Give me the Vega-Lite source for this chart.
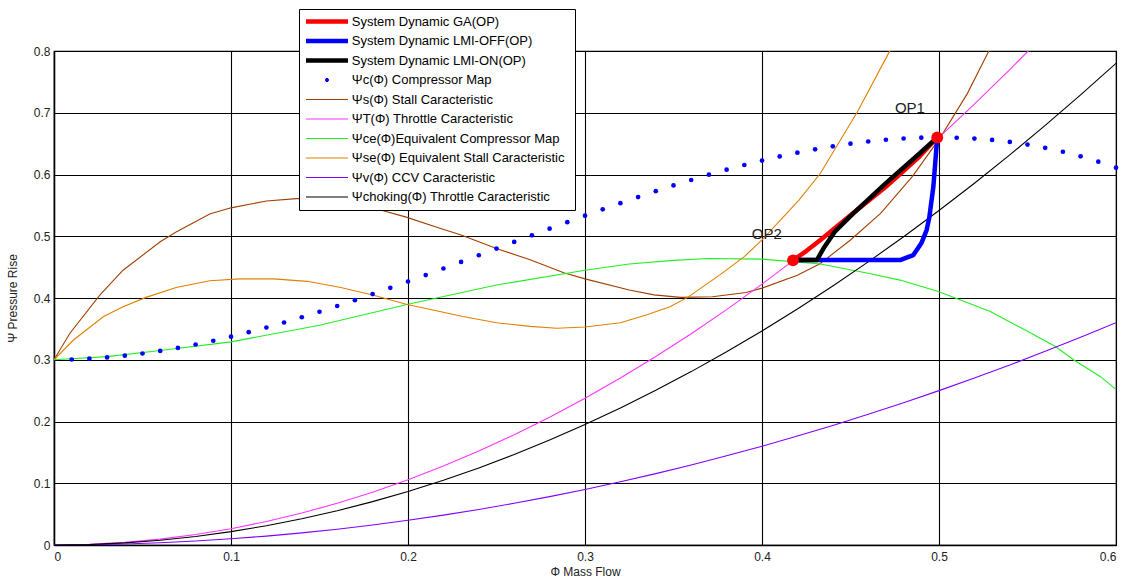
{
  "$schema": "https://vega.github.io/schema/vega-lite/v6.json",
  "width": 1062,
  "height": 494,
  "autosize": {"type": "none"},
  "padding": {"left": 54, "top": 51, "right": 21, "bottom": 39},
  "background": "white",
  "config": {
    "font": "Liberation Sans",
    "view": {"stroke": "black", "strokeWidth": 1.2},
    "axis": {
      "grid": true, "gridColor": "black", "gridOpacity": 1, "gridWidth": 1.1,
      "domainColor": "black", "domainWidth": 1.5,
      "ticks": false,
      "labelFont": "Liberation Sans", "labelFontSize": 12, "labelColor": "#222222",
      "titleFont": "Liberation Sans", "titleFontSize": 12, "titleFontWeight": "normal", "titleColor": "#222222"
    },
    "legend": {
      "orient": "none",
      "legendX": 245,
      "legendY": -42,
      "direction": "vertical",
      "fillColor": "white",
      "strokeColor": "black",
      "padding": 6,
      "labelFont": "Liberation Sans",
      "labelFontSize": 13,
      "labelColor": "#000000",
      "labelOffset": 18.3,
      "symbolOffset": 15.5,
      "labelLimit": 400,
      "rowPadding": 5.5,
      "symbolSize": 16,
      "symbolStrokeWidth": 1.1,
      "symbolOpacity": 1
    }
  },
  "datasets": {
    "thin": [
      {"s": "Ψs(Φ) Stall  Caracteristic", "x": 0, "y": 0.3},
      {"s": "Ψs(Φ) Stall  Caracteristic", "x": 0.009, "y": 0.343},
      {"s": "Ψs(Φ) Stall  Caracteristic", "x": 0.026, "y": 0.405},
      {"s": "Ψs(Φ) Stall  Caracteristic", "x": 0.039, "y": 0.445},
      {"s": "Ψs(Φ) Stall  Caracteristic", "x": 0.06, "y": 0.491},
      {"s": "Ψs(Φ) Stall  Caracteristic", "x": 0.069, "y": 0.507},
      {"s": "Ψs(Φ) Stall  Caracteristic", "x": 0.088, "y": 0.536},
      {"s": "Ψs(Φ) Stall  Caracteristic", "x": 0.1, "y": 0.546},
      {"s": "Ψs(Φ) Stall  Caracteristic", "x": 0.12, "y": 0.557},
      {"s": "Ψs(Φ) Stall  Caracteristic", "x": 0.137, "y": 0.561},
      {"s": "Ψs(Φ) Stall  Caracteristic", "x": 0.15, "y": 0.561},
      {"s": "Ψs(Φ) Stall  Caracteristic", "x": 0.165, "y": 0.554},
      {"s": "Ψs(Φ) Stall  Caracteristic", "x": 0.184, "y": 0.543},
      {"s": "Ψs(Φ) Stall  Caracteristic", "x": 0.199, "y": 0.531},
      {"s": "Ψs(Φ) Stall  Caracteristic", "x": 0.218, "y": 0.513},
      {"s": "Ψs(Φ) Stall  Caracteristic", "x": 0.23, "y": 0.502},
      {"s": "Ψs(Φ) Stall  Caracteristic", "x": 0.25, "y": 0.48},
      {"s": "Ψs(Φ) Stall  Caracteristic", "x": 0.269, "y": 0.462},
      {"s": "Ψs(Φ) Stall  Caracteristic", "x": 0.288, "y": 0.441},
      {"s": "Ψs(Φ) Stall  Caracteristic", "x": 0.3, "y": 0.431},
      {"s": "Ψs(Φ) Stall  Caracteristic", "x": 0.325, "y": 0.413},
      {"s": "Ψs(Φ) Stall  Caracteristic", "x": 0.339, "y": 0.405},
      {"s": "Ψs(Φ) Stall  Caracteristic", "x": 0.354, "y": 0.401},
      {"s": "Ψs(Φ) Stall  Caracteristic", "x": 0.372, "y": 0.402},
      {"s": "Ψs(Φ) Stall  Caracteristic", "x": 0.391, "y": 0.409},
      {"s": "Ψs(Φ) Stall  Caracteristic", "x": 0.4, "y": 0.416},
      {"s": "Ψs(Φ) Stall  Caracteristic", "x": 0.42, "y": 0.437},
      {"s": "Ψs(Φ) Stall  Caracteristic", "x": 0.433, "y": 0.456},
      {"s": "Ψs(Φ) Stall  Caracteristic", "x": 0.45, "y": 0.494},
      {"s": "Ψs(Φ) Stall  Caracteristic", "x": 0.467, "y": 0.537},
      {"s": "Ψs(Φ) Stall  Caracteristic", "x": 0.485, "y": 0.597},
      {"s": "Ψs(Φ) Stall  Caracteristic", "x": 0.501, "y": 0.661},
      {"s": "Ψs(Φ) Stall  Caracteristic", "x": 0.516, "y": 0.731},
      {"s": "Ψs(Φ) Stall  Caracteristic", "x": 0.528, "y": 0.799},
      {"s": "Ψs(Φ) Stall  Caracteristic", "x": 0.535, "y": 0.84},

      {"s": "ΨT(Φ) Throttle Caracteristic", "x": 0, "y": 0},
      {"s": "ΨT(Φ) Throttle Caracteristic", "x": 0.02, "y": 0.00106},
      {"s": "ΨT(Φ) Throttle Caracteristic", "x": 0.04, "y": 0.00422},
      {"s": "ΨT(Φ) Throttle Caracteristic", "x": 0.06, "y": 0.0095},
      {"s": "ΨT(Φ) Throttle Caracteristic", "x": 0.08, "y": 0.0169},
      {"s": "ΨT(Φ) Throttle Caracteristic", "x": 0.1, "y": 0.0264},
      {"s": "ΨT(Φ) Throttle Caracteristic", "x": 0.12, "y": 0.038},
      {"s": "ΨT(Φ) Throttle Caracteristic", "x": 0.14, "y": 0.0517},
      {"s": "ΨT(Φ) Throttle Caracteristic", "x": 0.16, "y": 0.0676},
      {"s": "ΨT(Φ) Throttle Caracteristic", "x": 0.18, "y": 0.0855},
      {"s": "ΨT(Φ) Throttle Caracteristic", "x": 0.2, "y": 0.1056},
      {"s": "ΨT(Φ) Throttle Caracteristic", "x": 0.22, "y": 0.1278},
      {"s": "ΨT(Φ) Throttle Caracteristic", "x": 0.24, "y": 0.1521},
      {"s": "ΨT(Φ) Throttle Caracteristic", "x": 0.26, "y": 0.1785},
      {"s": "ΨT(Φ) Throttle Caracteristic", "x": 0.28, "y": 0.207},
      {"s": "ΨT(Φ) Throttle Caracteristic", "x": 0.3, "y": 0.2376},
      {"s": "ΨT(Φ) Throttle Caracteristic", "x": 0.32, "y": 0.2703},
      {"s": "ΨT(Φ) Throttle Caracteristic", "x": 0.34, "y": 0.3052},
      {"s": "ΨT(Φ) Throttle Caracteristic", "x": 0.36, "y": 0.3421},
      {"s": "ΨT(Φ) Throttle Caracteristic", "x": 0.38, "y": 0.3812},
      {"s": "ΨT(Φ) Throttle Caracteristic", "x": 0.4, "y": 0.4224},
      {"s": "ΨT(Φ) Throttle Caracteristic", "x": 0.42, "y": 0.4657},
      {"s": "ΨT(Φ) Throttle Caracteristic", "x": 0.44, "y": 0.5111},
      {"s": "ΨT(Φ) Throttle Caracteristic", "x": 0.46, "y": 0.5586},
      {"s": "ΨT(Φ) Throttle Caracteristic", "x": 0.48, "y": 0.6083},
      {"s": "ΨT(Φ) Throttle Caracteristic", "x": 0.5, "y": 0.66},
      {"s": "ΨT(Φ) Throttle Caracteristic", "x": 0.52, "y": 0.7139},
      {"s": "ΨT(Φ) Throttle Caracteristic", "x": 0.54, "y": 0.7698},
      {"s": "ΨT(Φ) Throttle Caracteristic", "x": 0.56, "y": 0.8279},

      {"s": "Ψce(Φ)Equivalent Compressor Map", "x": 0, "y": 0.3},
      {"s": "Ψce(Φ)Equivalent Compressor Map", "x": 0.03, "y": 0.305},
      {"s": "Ψce(Φ)Equivalent Compressor Map", "x": 0.06, "y": 0.315},
      {"s": "Ψce(Φ)Equivalent Compressor Map", "x": 0.1, "y": 0.329},
      {"s": "Ψce(Φ)Equivalent Compressor Map", "x": 0.15, "y": 0.356},
      {"s": "Ψce(Φ)Equivalent Compressor Map", "x": 0.2, "y": 0.39},
      {"s": "Ψce(Φ)Equivalent Compressor Map", "x": 0.25, "y": 0.421},
      {"s": "Ψce(Φ)Equivalent Compressor Map", "x": 0.3, "y": 0.445},
      {"s": "Ψce(Φ)Equivalent Compressor Map", "x": 0.325, "y": 0.455},
      {"s": "Ψce(Φ)Equivalent Compressor Map", "x": 0.35, "y": 0.461},
      {"s": "Ψce(Φ)Equivalent Compressor Map", "x": 0.37, "y": 0.464},
      {"s": "Ψce(Φ)Equivalent Compressor Map", "x": 0.4, "y": 0.463},
      {"s": "Ψce(Φ)Equivalent Compressor Map", "x": 0.433, "y": 0.455},
      {"s": "Ψce(Φ)Equivalent Compressor Map", "x": 0.46, "y": 0.44},
      {"s": "Ψce(Φ)Equivalent Compressor Map", "x": 0.478, "y": 0.429},
      {"s": "Ψce(Φ)Equivalent Compressor Map", "x": 0.5, "y": 0.41},
      {"s": "Ψce(Φ)Equivalent Compressor Map", "x": 0.529, "y": 0.378},
      {"s": "Ψce(Φ)Equivalent Compressor Map", "x": 0.55, "y": 0.346},
      {"s": "Ψce(Φ)Equivalent Compressor Map", "x": 0.566, "y": 0.321},
      {"s": "Ψce(Φ)Equivalent Compressor Map", "x": 0.576, "y": 0.3},
      {"s": "Ψce(Φ)Equivalent Compressor Map", "x": 0.591, "y": 0.273},
      {"s": "Ψce(Φ)Equivalent Compressor Map", "x": 0.6, "y": 0.252},

      {"s": "Ψse(Φ) Equivalent Stall  Caracteristic", "x": 0, "y": 0.3},
      {"s": "Ψse(Φ) Equivalent Stall  Caracteristic", "x": 0.011, "y": 0.332},
      {"s": "Ψse(Φ) Equivalent Stall  Caracteristic", "x": 0.028, "y": 0.37},
      {"s": "Ψse(Φ) Equivalent Stall  Caracteristic", "x": 0.039, "y": 0.386},
      {"s": "Ψse(Φ) Equivalent Stall  Caracteristic", "x": 0.052, "y": 0.401},
      {"s": "Ψse(Φ) Equivalent Stall  Caracteristic", "x": 0.069, "y": 0.417},
      {"s": "Ψse(Φ) Equivalent Stall  Caracteristic", "x": 0.088, "y": 0.428},
      {"s": "Ψse(Φ) Equivalent Stall  Caracteristic", "x": 0.105, "y": 0.431},
      {"s": "Ψse(Φ) Equivalent Stall  Caracteristic", "x": 0.124, "y": 0.431},
      {"s": "Ψse(Φ) Equivalent Stall  Caracteristic", "x": 0.143, "y": 0.427},
      {"s": "Ψse(Φ) Equivalent Stall  Caracteristic", "x": 0.162, "y": 0.417},
      {"s": "Ψse(Φ) Equivalent Stall  Caracteristic", "x": 0.18, "y": 0.405},
      {"s": "Ψse(Φ) Equivalent Stall  Caracteristic", "x": 0.199, "y": 0.39},
      {"s": "Ψse(Φ) Equivalent Stall  Caracteristic", "x": 0.218, "y": 0.378},
      {"s": "Ψse(Φ) Equivalent Stall  Caracteristic", "x": 0.231, "y": 0.37},
      {"s": "Ψse(Φ) Equivalent Stall  Caracteristic", "x": 0.25, "y": 0.36},
      {"s": "Ψse(Φ) Equivalent Stall  Caracteristic", "x": 0.269, "y": 0.354},
      {"s": "Ψse(Φ) Equivalent Stall  Caracteristic", "x": 0.284, "y": 0.351},
      {"s": "Ψse(Φ) Equivalent Stall  Caracteristic", "x": 0.3, "y": 0.353},
      {"s": "Ψse(Φ) Equivalent Stall  Caracteristic", "x": 0.32, "y": 0.36},
      {"s": "Ψse(Φ) Equivalent Stall  Caracteristic", "x": 0.335, "y": 0.373},
      {"s": "Ψse(Φ) Equivalent Stall  Caracteristic", "x": 0.348, "y": 0.386},
      {"s": "Ψse(Φ) Equivalent Stall  Caracteristic", "x": 0.358, "y": 0.401},
      {"s": "Ψse(Φ) Equivalent Stall  Caracteristic", "x": 0.376, "y": 0.437},
      {"s": "Ψse(Φ) Equivalent Stall  Caracteristic", "x": 0.39, "y": 0.467},
      {"s": "Ψse(Φ) Equivalent Stall  Caracteristic", "x": 0.4, "y": 0.494},
      {"s": "Ψse(Φ) Equivalent Stall  Caracteristic", "x": 0.41, "y": 0.525},
      {"s": "Ψse(Φ) Equivalent Stall  Caracteristic", "x": 0.421, "y": 0.559},
      {"s": "Ψse(Φ) Equivalent Stall  Caracteristic", "x": 0.433, "y": 0.602},
      {"s": "Ψse(Φ) Equivalent Stall  Caracteristic", "x": 0.454, "y": 0.702},
      {"s": "Ψse(Φ) Equivalent Stall  Caracteristic", "x": 0.472, "y": 0.799},
      {"s": "Ψse(Φ) Equivalent Stall  Caracteristic", "x": 0.48, "y": 0.84},

      {"s": "Ψv(Φ) CCV Caracteristic", "x": 0, "y": 0},
      {"s": "Ψv(Φ) CCV Caracteristic", "x": 0.02, "y": 0.0004},
      {"s": "Ψv(Φ) CCV Caracteristic", "x": 0.04, "y": 0.0016},
      {"s": "Ψv(Φ) CCV Caracteristic", "x": 0.06, "y": 0.0036},
      {"s": "Ψv(Φ) CCV Caracteristic", "x": 0.08, "y": 0.0064},
      {"s": "Ψv(Φ) CCV Caracteristic", "x": 0.1, "y": 0.01},
      {"s": "Ψv(Φ) CCV Caracteristic", "x": 0.12, "y": 0.0144},
      {"s": "Ψv(Φ) CCV Caracteristic", "x": 0.14, "y": 0.0196},
      {"s": "Ψv(Φ) CCV Caracteristic", "x": 0.16, "y": 0.0256},
      {"s": "Ψv(Φ) CCV Caracteristic", "x": 0.18, "y": 0.0324},
      {"s": "Ψv(Φ) CCV Caracteristic", "x": 0.2, "y": 0.04},
      {"s": "Ψv(Φ) CCV Caracteristic", "x": 0.22, "y": 0.0484},
      {"s": "Ψv(Φ) CCV Caracteristic", "x": 0.24, "y": 0.0576},
      {"s": "Ψv(Φ) CCV Caracteristic", "x": 0.26, "y": 0.0676},
      {"s": "Ψv(Φ) CCV Caracteristic", "x": 0.28, "y": 0.0784},
      {"s": "Ψv(Φ) CCV Caracteristic", "x": 0.3, "y": 0.09},
      {"s": "Ψv(Φ) CCV Caracteristic", "x": 0.32, "y": 0.1024},
      {"s": "Ψv(Φ) CCV Caracteristic", "x": 0.34, "y": 0.1156},
      {"s": "Ψv(Φ) CCV Caracteristic", "x": 0.36, "y": 0.1296},
      {"s": "Ψv(Φ) CCV Caracteristic", "x": 0.38, "y": 0.1444},
      {"s": "Ψv(Φ) CCV Caracteristic", "x": 0.4, "y": 0.16},
      {"s": "Ψv(Φ) CCV Caracteristic", "x": 0.42, "y": 0.1764},
      {"s": "Ψv(Φ) CCV Caracteristic", "x": 0.44, "y": 0.1936},
      {"s": "Ψv(Φ) CCV Caracteristic", "x": 0.46, "y": 0.2116},
      {"s": "Ψv(Φ) CCV Caracteristic", "x": 0.48, "y": 0.2304},
      {"s": "Ψv(Φ) CCV Caracteristic", "x": 0.5, "y": 0.25},
      {"s": "Ψv(Φ) CCV Caracteristic", "x": 0.52, "y": 0.2704},
      {"s": "Ψv(Φ) CCV Caracteristic", "x": 0.54, "y": 0.2916},
      {"s": "Ψv(Φ) CCV Caracteristic", "x": 0.56, "y": 0.3136},
      {"s": "Ψv(Φ) CCV Caracteristic", "x": 0.58, "y": 0.3364},
      {"s": "Ψv(Φ) CCV Caracteristic", "x": 0.6, "y": 0.36},

      {"s": "Ψchoking(Φ) Throttle Caracteristic", "x": 0, "y": 0},
      {"s": "Ψchoking(Φ) Throttle Caracteristic", "x": 0.02, "y": 0.00087},
      {"s": "Ψchoking(Φ) Throttle Caracteristic", "x": 0.04, "y": 0.00347},
      {"s": "Ψchoking(Φ) Throttle Caracteristic", "x": 0.06, "y": 0.0078},
      {"s": "Ψchoking(Φ) Throttle Caracteristic", "x": 0.08, "y": 0.01387},
      {"s": "Ψchoking(Φ) Throttle Caracteristic", "x": 0.1, "y": 0.02167},
      {"s": "Ψchoking(Φ) Throttle Caracteristic", "x": 0.12, "y": 0.0312},
      {"s": "Ψchoking(Φ) Throttle Caracteristic", "x": 0.14, "y": 0.04247},
      {"s": "Ψchoking(Φ) Throttle Caracteristic", "x": 0.16, "y": 0.05547},
      {"s": "Ψchoking(Φ) Throttle Caracteristic", "x": 0.18, "y": 0.0702},
      {"s": "Ψchoking(Φ) Throttle Caracteristic", "x": 0.2, "y": 0.08667},
      {"s": "Ψchoking(Φ) Throttle Caracteristic", "x": 0.22, "y": 0.10487},
      {"s": "Ψchoking(Φ) Throttle Caracteristic", "x": 0.24, "y": 0.1248},
      {"s": "Ψchoking(Φ) Throttle Caracteristic", "x": 0.26, "y": 0.14647},
      {"s": "Ψchoking(Φ) Throttle Caracteristic", "x": 0.28, "y": 0.16987},
      {"s": "Ψchoking(Φ) Throttle Caracteristic", "x": 0.3, "y": 0.195},
      {"s": "Ψchoking(Φ) Throttle Caracteristic", "x": 0.32, "y": 0.22187},
      {"s": "Ψchoking(Φ) Throttle Caracteristic", "x": 0.34, "y": 0.25047},
      {"s": "Ψchoking(Φ) Throttle Caracteristic", "x": 0.36, "y": 0.2808},
      {"s": "Ψchoking(Φ) Throttle Caracteristic", "x": 0.38, "y": 0.31287},
      {"s": "Ψchoking(Φ) Throttle Caracteristic", "x": 0.4, "y": 0.34667},
      {"s": "Ψchoking(Φ) Throttle Caracteristic", "x": 0.42, "y": 0.3822},
      {"s": "Ψchoking(Φ) Throttle Caracteristic", "x": 0.44, "y": 0.41947},
      {"s": "Ψchoking(Φ) Throttle Caracteristic", "x": 0.46, "y": 0.45847},
      {"s": "Ψchoking(Φ) Throttle Caracteristic", "x": 0.48, "y": 0.4992},
      {"s": "Ψchoking(Φ) Throttle Caracteristic", "x": 0.5, "y": 0.54167},
      {"s": "Ψchoking(Φ) Throttle Caracteristic", "x": 0.52, "y": 0.58587},
      {"s": "Ψchoking(Φ) Throttle Caracteristic", "x": 0.54, "y": 0.6318},
      {"s": "Ψchoking(Φ) Throttle Caracteristic", "x": 0.56, "y": 0.67947},
      {"s": "Ψchoking(Φ) Throttle Caracteristic", "x": 0.58, "y": 0.72887},
      {"s": "Ψchoking(Φ) Throttle Caracteristic", "x": 0.6, "y": 0.78}
    ],
    "dots": [
      {"x": 0.01, "y": 0.30043}, {"x": 0.02, "y": 0.30168}, {"x": 0.03, "y": 0.30373},
      {"x": 0.04, "y": 0.30654}, {"x": 0.05, "y": 0.31008}, {"x": 0.06, "y": 0.31431},
      {"x": 0.07, "y": 0.31919}, {"x": 0.08, "y": 0.3247}, {"x": 0.09, "y": 0.33079},
      {"x": 0.1, "y": 0.33744}, {"x": 0.11, "y": 0.34461}, {"x": 0.12, "y": 0.35225},
      {"x": 0.13, "y": 0.36035}, {"x": 0.14, "y": 0.36887}, {"x": 0.15, "y": 0.37776},
      {"x": 0.16, "y": 0.387}, {"x": 0.17, "y": 0.39655}, {"x": 0.18, "y": 0.40638},
      {"x": 0.19, "y": 0.41644}, {"x": 0.2, "y": 0.42672}, {"x": 0.21, "y": 0.43717},
      {"x": 0.22, "y": 0.44776}, {"x": 0.23, "y": 0.45845}, {"x": 0.24, "y": 0.46921},
      {"x": 0.25, "y": 0.48}, {"x": 0.26, "y": 0.49079}, {"x": 0.27, "y": 0.50155},
      {"x": 0.28, "y": 0.51224}, {"x": 0.29, "y": 0.52283}, {"x": 0.3, "y": 0.53328},
      {"x": 0.31, "y": 0.54356}, {"x": 0.32, "y": 0.55362}, {"x": 0.33, "y": 0.56345},
      {"x": 0.34, "y": 0.573}, {"x": 0.35, "y": 0.58224}, {"x": 0.36, "y": 0.59113},
      {"x": 0.37, "y": 0.59965}, {"x": 0.38, "y": 0.60775}, {"x": 0.39, "y": 0.61539},
      {"x": 0.4, "y": 0.62256}, {"x": 0.41, "y": 0.62921}, {"x": 0.42, "y": 0.6353},
      {"x": 0.43, "y": 0.64081}, {"x": 0.44, "y": 0.64569}, {"x": 0.45, "y": 0.64992},
      {"x": 0.46, "y": 0.65346}, {"x": 0.47, "y": 0.65627}, {"x": 0.48, "y": 0.65832},
      {"x": 0.49, "y": 0.65957}, {"x": 0.5, "y": 0.66}, {"x": 0.51, "y": 0.65956},
      {"x": 0.52, "y": 0.65823}, {"x": 0.53, "y": 0.65596}, {"x": 0.54, "y": 0.65272},
      {"x": 0.55, "y": 0.64848}, {"x": 0.56, "y": 0.6432}, {"x": 0.57, "y": 0.63686},
      {"x": 0.58, "y": 0.6294}, {"x": 0.59, "y": 0.62081}, {"x": 0.6, "y": 0.61104}
    ],
    "thick": [
      {"s": "System Dynamic GA(OP)", "x": 0.4175, "y": 0.461},
      {"s": "System Dynamic GA(OP)", "x": 0.425, "y": 0.476},
      {"s": "System Dynamic GA(OP)", "x": 0.433, "y": 0.494},
      {"s": "System Dynamic GA(OP)", "x": 0.45, "y": 0.534},
      {"s": "System Dynamic GA(OP)", "x": 0.47, "y": 0.58},
      {"s": "System Dynamic GA(OP)", "x": 0.489, "y": 0.629},
      {"s": "System Dynamic GA(OP)", "x": 0.499, "y": 0.66},
      {"s": "System Dynamic LMI-OFF(OP)", "x": 0.4175, "y": 0.4615},
      {"s": "System Dynamic LMI-OFF(OP)", "x": 0.478, "y": 0.4615},
      {"s": "System Dynamic LMI-OFF(OP)", "x": 0.4855, "y": 0.4696},
      {"s": "System Dynamic LMI-OFF(OP)", "x": 0.49, "y": 0.4886},
      {"s": "System Dynamic LMI-OFF(OP)", "x": 0.493, "y": 0.51},
      {"s": "System Dynamic LMI-OFF(OP)", "x": 0.4945, "y": 0.53},
      {"s": "System Dynamic LMI-OFF(OP)", "x": 0.4968, "y": 0.58},
      {"s": "System Dynamic LMI-OFF(OP)", "x": 0.4983, "y": 0.634},
      {"s": "System Dynamic LMI-OFF(OP)", "x": 0.499, "y": 0.66},
      {"s": "System Dynamic LMI-ON(OP)", "x": 0.4175, "y": 0.4615},
      {"s": "System Dynamic LMI-ON(OP)", "x": 0.431, "y": 0.4615},
      {"s": "System Dynamic LMI-ON(OP)", "x": 0.4347, "y": 0.48},
      {"s": "System Dynamic LMI-ON(OP)", "x": 0.441, "y": 0.507},
      {"s": "System Dynamic LMI-ON(OP)", "x": 0.4516, "y": 0.537},
      {"s": "System Dynamic LMI-ON(OP)", "x": 0.47, "y": 0.586},
      {"s": "System Dynamic LMI-ON(OP)", "x": 0.489, "y": 0.634},
      {"s": "System Dynamic LMI-ON(OP)", "x": 0.499, "y": 0.66}
    ],
    "ops": [
      {"name": "OP1", "x": 0.499, "y": 0.66, "lx": 0.4751, "ly": 0.7},
      {"name": "OP2", "x": 0.4175, "y": 0.461, "lx": 0.3942, "ly": 0.495}
    ],
    "none": []
  },
  "layer": [
    {
      "data": {"name": "thin"},
      "mark": {"type": "line", "strokeWidth": 1.1, "clip": true},
      "encoding": {
        "x": {
          "field": "x", "type": "quantitative",
          "scale": {"domain": [0, 0.6], "nice": false, "zero": false},
          "axis": {
            "title": "Φ Mass Flow",
            "values": [0, 0.1, 0.2, 0.3, 0.4, 0.5, 0.6],
            "labelExpr": "datum.value == 0 ? '0' : format(datum.value, '.1f')",
            "labelPadding": 6, "titlePadding": 4
          }
        },
        "y": {
          "field": "y", "type": "quantitative",
          "scale": {"domain": [0, 0.8], "nice": false, "zero": false},
          "axis": {
            "title": "Ψ Pressure Rise",
            "values": [0, 0.1, 0.2, 0.3, 0.4, 0.5, 0.6, 0.7, 0.8],
            "labelExpr": "datum.value == 0 ? '0' : format(datum.value, '.1f')",
            "labelPadding": 4, "titlePadding": 14
          }
        },
        "color": {
          "field": "s", "type": "nominal",
          "scale": {
            "domain": [
              "System Dynamic GA(OP)",
              "System Dynamic LMI-OFF(OP)",
              "System Dynamic LMI-ON(OP)",
              "Ψc(Φ) Compressor Map",
              "Ψs(Φ) Stall  Caracteristic",
              "ΨT(Φ) Throttle Caracteristic",
              "Ψce(Φ)Equivalent Compressor Map",
              "Ψse(Φ) Equivalent Stall  Caracteristic",
              "Ψv(Φ) CCV Caracteristic",
              "Ψchoking(Φ) Throttle Caracteristic"
            ],
            "range": ["#ff0000", "#0000ff", "#000000", "#0000ff", "#a04000", "#ff33ff", "#22ee22", "#e08000", "#8000ff", "#000000"]
          },
          "legend": {"title": null}
        }
      }
    },
    {
      "data": {"name": "none"},
      "mark": {"type": "point", "filled": false},
      "encoding": {
        "shape": {
          "field": "s", "type": "nominal",
          "scale": {
            "domain": [
              "System Dynamic GA(OP)",
              "System Dynamic LMI-OFF(OP)",
              "System Dynamic LMI-ON(OP)",
              "Ψc(Φ) Compressor Map",
              "Ψs(Φ) Stall  Caracteristic",
              "ΨT(Φ) Throttle Caracteristic",
              "Ψce(Φ)Equivalent Compressor Map",
              "Ψse(Φ) Equivalent Stall  Caracteristic",
              "Ψv(Φ) CCV Caracteristic",
              "Ψchoking(Φ) Throttle Caracteristic"
            ],
            "range": [
              "M-10.5,-0.8H10.5M-10.5,-0.4H10.5M-10.5,0H10.5M-10.5,0.4H10.5M-10.5,0.8H10.5",
              "M-10.5,-0.8H10.5M-10.5,-0.4H10.5M-10.5,0H10.5M-10.5,0.4H10.5M-10.5,0.8H10.5",
              "M-10.5,-0.8H10.5M-10.5,-0.4H10.5M-10.5,0H10.5M-10.5,0.4H10.5M-10.5,0.8H10.5",
              "M-0.6,-0.75H0.6M-0.95,-0.25H0.95M-0.95,0.25H0.95M-0.6,0.75H0.6",
              "M-10.5,0H10.5",
              "M-10.5,0H10.5",
              "M-10.5,0H10.5",
              "M-10.5,0H10.5",
              "M-10.5,0H10.5",
              "M-10.5,0H10.5"
            ]
          },
          "legend": {"title": null}
        }
      }
    },
    {
      "data": {"name": "dots"},
      "mark": {"type": "point", "filled": true, "size": 22, "opacity": 1, "color": "#0000ff"},
      "encoding": {
        "x": {"field": "x", "type": "quantitative"},
        "y": {"field": "y", "type": "quantitative"}
      }
    },
    {
      "data": {"name": "thick"},
      "mark": {"type": "line", "strokeWidth": 4.5, "strokeJoin": "round", "strokeCap": "round", "clip": true},
      "encoding": {
        "x": {"field": "x", "type": "quantitative"},
        "y": {"field": "y", "type": "quantitative"},
        "color": {"field": "s", "type": "nominal"}
      }
    },
    {
      "data": {"name": "ops"},
      "mark": {"type": "point", "filled": true, "size": 140, "opacity": 1, "color": "#ff0000"},
      "encoding": {
        "x": {"field": "x", "type": "quantitative"},
        "y": {"field": "y", "type": "quantitative"}
      }
    },
    {
      "data": {"name": "ops"},
      "mark": {"type": "text", "align": "left", "baseline": "alphabetic", "fontSize": 15, "font": "Liberation Sans", "color": "#222222"},
      "encoding": {
        "x": {"field": "lx", "type": "quantitative"},
        "y": {"field": "ly", "type": "quantitative"},
        "text": {"field": "name"}
      }
    }
  ]
}
